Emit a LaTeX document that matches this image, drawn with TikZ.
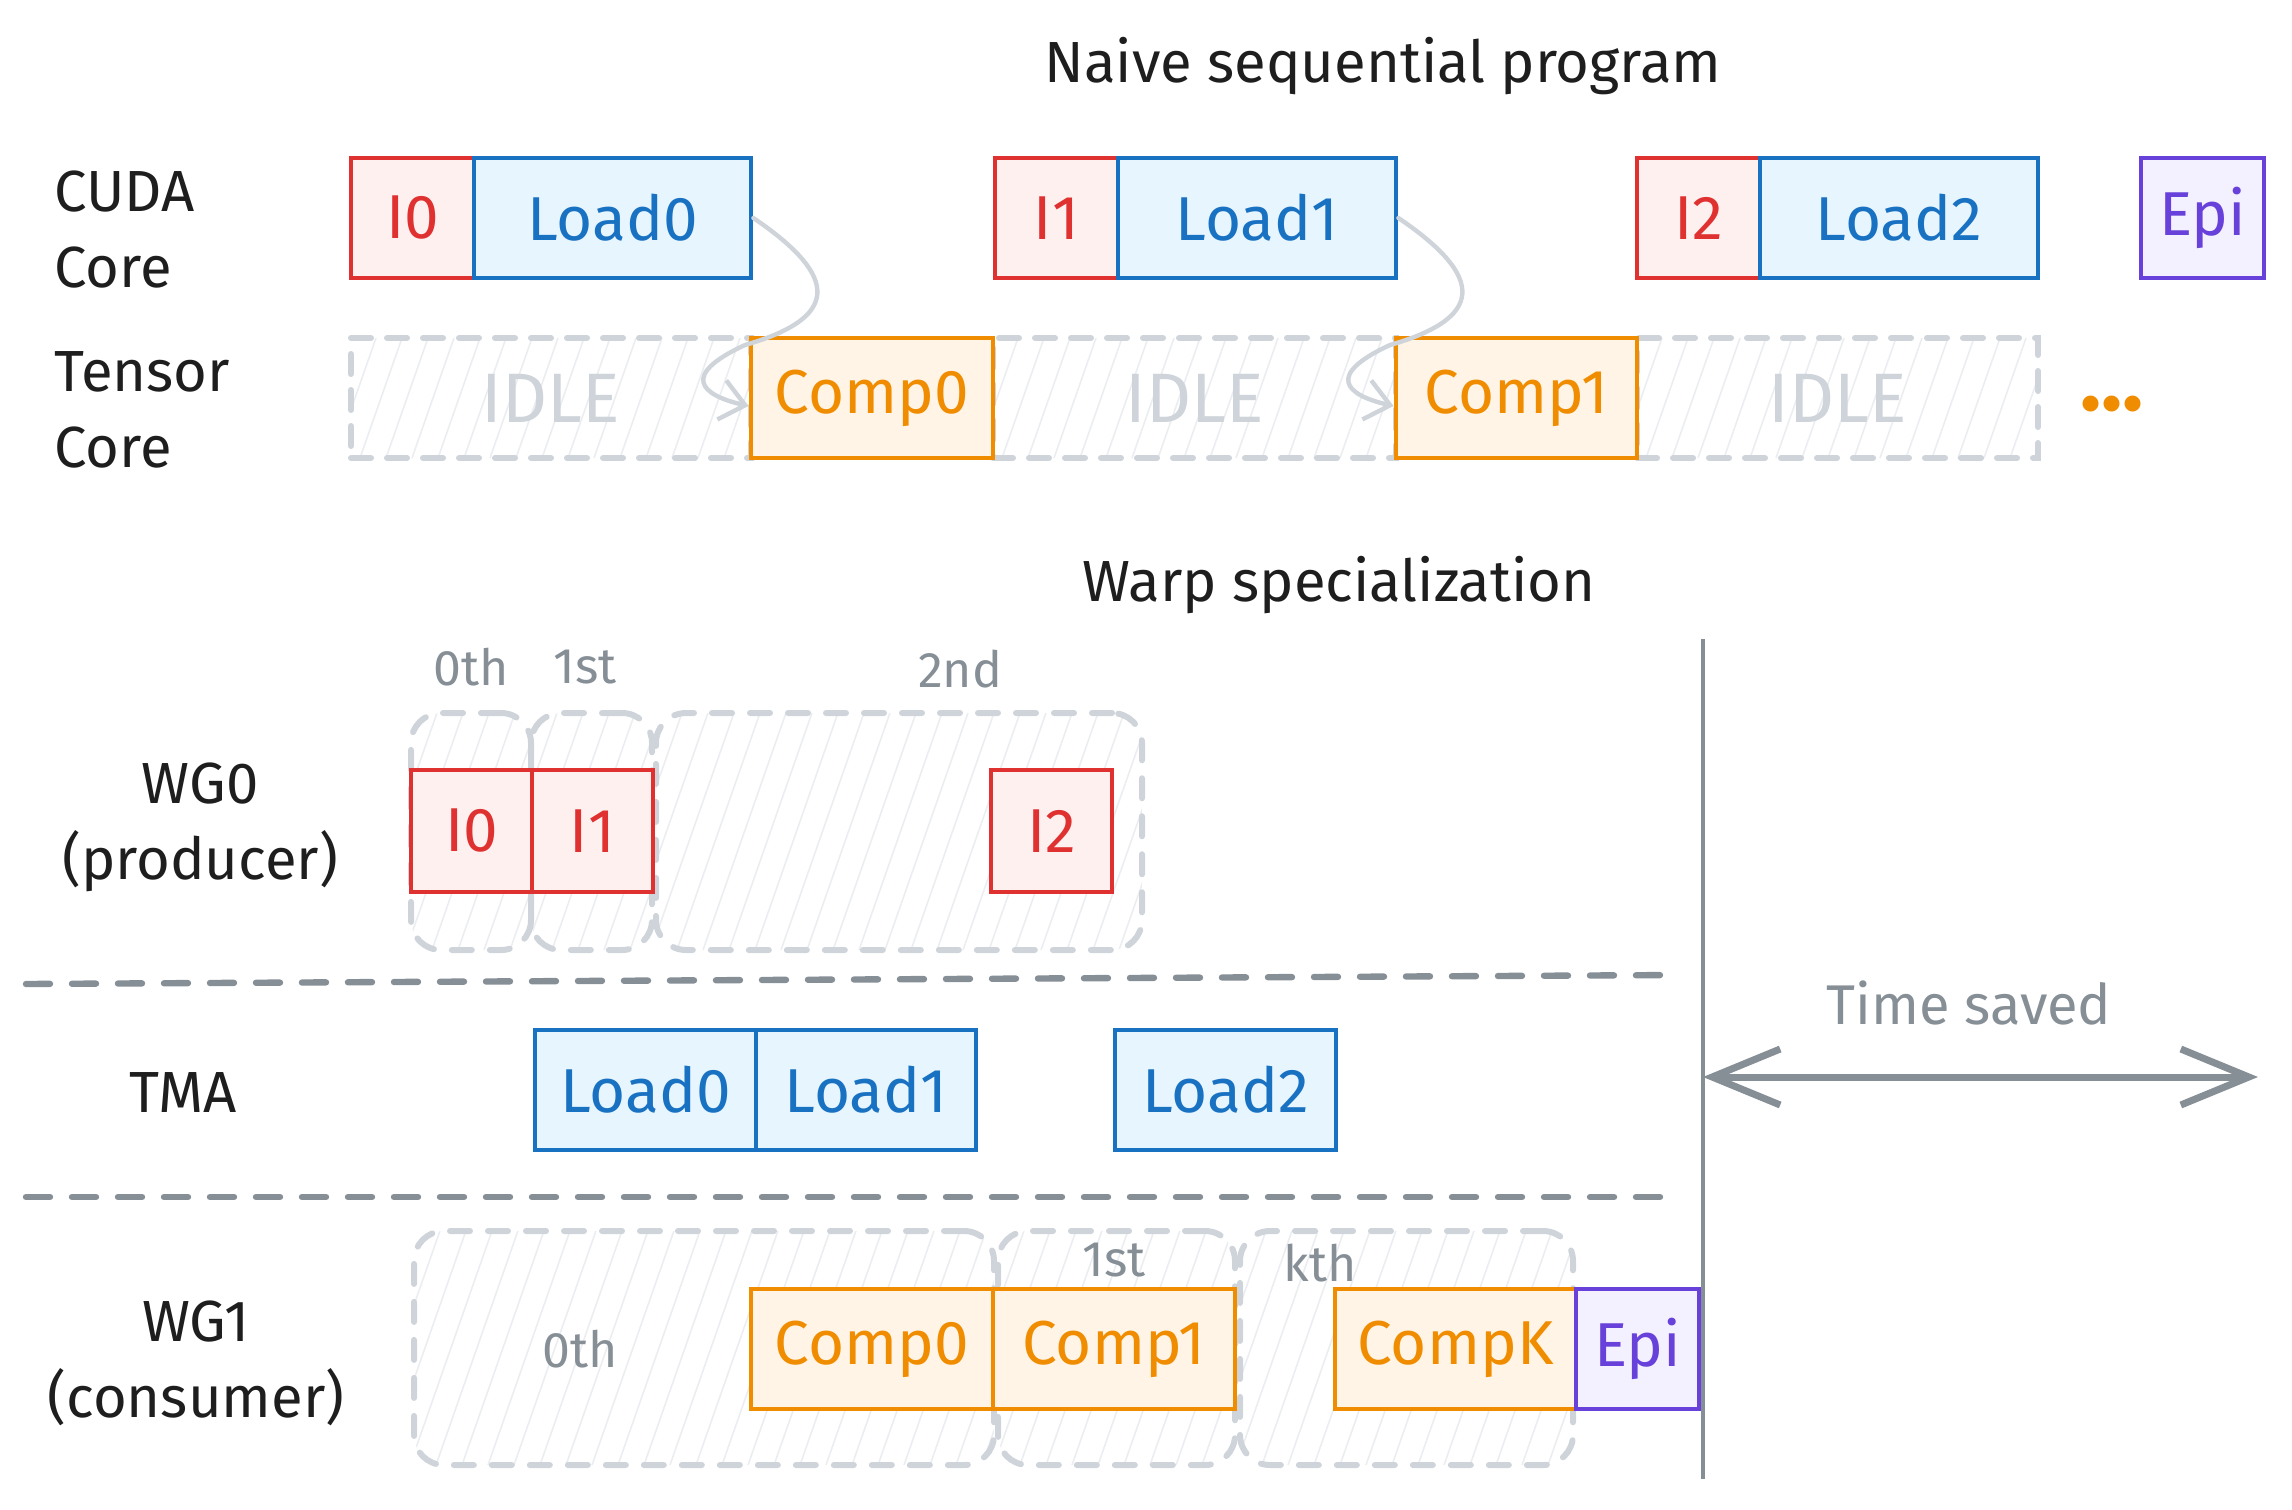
\documentclass[tikz,border=0pt]{standalone}
\usepackage{fontspec}
\setmainfont{Fira Sans}
\usetikzlibrary{arrows.meta,fit,calc}
\definecolor{tred}{HTML}{E03131}
\definecolor{fred}{HTML}{FFF0F0}
\definecolor{tblue}{HTML}{1971C2}
\definecolor{fblue}{HTML}{E7F5FF}
\definecolor{torange}{HTML}{F08C00}
\definecolor{forange}{HTML}{FFF4E6}
\definecolor{tpurple}{HTML}{6741D9}
\definecolor{fpurple}{HTML}{F3F0FF}
\definecolor{lgray}{HTML}{CED4DA}
\definecolor{mgray}{HTML}{868E96}
\definecolor{hgray}{HTML}{EBEDF0}
\definecolor{ink}{HTML}{1E1E1E}
\tikzset{
  big/.style={font=\fontsize{29}{38}\selectfont},
  boxfont/.style={font=\fontsize{31}{38}\selectfont},
  small/.style={font=\fontsize{25}{30}\selectfont},
  tbox/.style={draw, inner sep=0pt, line width=2.4pt},
  ibox/.style={tbox, draw=tred, fill=fred},
  lbox/.style={tbox, draw=tblue, fill=fblue},
  cbox/.style={tbox, draw=torange, fill=forange},
  ebox/.style={tbox, draw=tpurple, fill=fpurple},
  itxt/.style={boxfont, text=tred, inner sep=0pt},
  ltxt/.style={boxfont, text=tblue, inner sep=0pt},
  ctxt/.style={boxfont, text=torange, inner sep=0pt},
  etxt/.style={boxfont, text=tpurple, inner sep=0pt},
  idtxt/.style={font=\fontsize{35}{40}\selectfont, text=lgray, inner sep=0pt},
  idlebox/.style={draw=lgray, line width=3pt, dash pattern=on 10pt off 8pt, line cap=round, inner sep=0pt},
  grp/.style={draw=lgray, line width=3pt, dash pattern=on 10pt off 9pt, line cap=round, rounded corners=15pt, inner sep=0pt},
  hatchline/.style={draw=hgray, line width=0.8pt},
  sepline/.style={draw=mgray, line width=3.2pt, dash pattern=on 12pt off 11pt, line cap=round},
  flow/.style={draw=lgray, line width=2.2pt, line cap=round, -{Straight Barb[length=12pt,width=20pt]}},
  rowlabel/.style={big, text=ink, inner sep=0pt},
  note/.style={small, text=mgray, inner sep=0pt},
}
\newcommand\hatchbox[5]{%
  \begin{scope}
    \clip[rounded corners=#5] (#1,#2) rectangle (#3,#4);
    \pgfmathtruncatemacro\hs{#1-0.35*(#4-#2)}
    \pgfmathtruncatemacro\hn{\hs+26}
    \foreach \i in {\hs,\hn,...,#3} \draw[hatchline] (\i,#4) -- ({\i+0.35*(#4-#2)},#2);
  \end{scope}}
\begin{document}
\begin{tikzpicture}[x=0.5pt,y=-0.5pt]
\useasboundingbox (0,0) rectangle (2292,1510);

% ---------- titles ----------
\node[rowlabel] (title1) at (1383,66) {Naive sequential program};
\node[rowlabel] (title2) at (1339,585) {Warp specialization};

% ---------- row labels ----------
\node[rowlabel, anchor=west, align=left] (cudalab) at (54,230) {CUDA\\Core};
\node[rowlabel, anchor=west, align=left] (tenslab) at (54,410) {Tensor\\Core};
\node[rowlabel, align=center] (wg0lab) at (200,827) {WG0\\(producer)};
\node[rowlabel] (tmalab) at (183,1093) {TMA};
\node[rowlabel, align=center] (wg1lab) at (196,1363) {WG1\\(consumer)};

% ---------- hatching ----------
\hatchbox{351}{338}{751}{458}{0pt}
\hatchbox{993}{338}{1396}{458}{0pt}
\hatchbox{1637}{338}{2038}{458}{0pt}
\hatchbox{411}{713}{531}{950}{15pt}
\hatchbox{531}{713}{652}{950}{15pt}
\hatchbox{656}{713}{1142}{950}{15pt}
\hatchbox{414}{1231}{994}{1465}{15pt}
\hatchbox{998}{1231}{1235}{1465}{15pt}
\hatchbox{1240}{1231}{1573}{1465}{15pt}

% ---------- top: naive ----------
\node[idlebox, fit={(351,338)(751,458)}, label={[idtxt]center:IDLE}] (idle1) {};
\node[idlebox, fit={(993,338)(1396,458)}, label={[idtxt]center:IDLE}] (idle2) {};
\node[idlebox, fit={(1637,338)(2038,458)}, label={[idtxt]center:IDLE}] (idle3) {};

\node[ibox, fit={(351,158)(474,278)}, label={[itxt]center:I0}] (i0) {};
\node[lbox, fit={(474,158)(751,278)}, label={[ltxt]center:Load0}] (load0) {};
\node[ibox, fit={(995,158)(1118,278)}, label={[itxt]center:I1}] (i1) {};
\node[lbox, fit={(1118,158)(1396,278)}, label={[ltxt]center:Load1}] (load1) {};
\node[ibox, fit={(1637,158)(1760,278)}, label={[itxt]center:I2}] (i2) {};
\node[lbox, fit={(1760,158)(2038,278)}, label={[ltxt]center:Load2}] (load2) {};
\node[ebox, fit={(2141,158)(2264,278)}, label={[etxt]center:Epi}] (epi) {};

\node[cbox, fit={(751,338)(993,458)}, label={[ctxt]center:Comp0}] (comp0) {};
\node[cbox, fit={(1396,338)(1637,458)}, label={[ctxt]center:Comp1}] (comp1) {};
\node[text=torange, inner sep=0pt, anchor=base, font=\fontsize{44}{48}\selectfont\bfseries] (dots) at (2112,410) {...};

\draw[flow] (load0.east) .. controls (830,270) and (850,315) .. (745,345)
  .. controls (680,375) and (700,395) .. ([yshift=-4pt]comp0.west);
\draw[flow] (load1.east) .. controls (1475,270) and (1495,315) .. (1390,345)
  .. controls (1325,375) and (1345,395) .. ([yshift=-4pt]comp1.west);

% ---------- bottom: warp specialization ----------
\node[note] (n0th) at (471,667) {0th};
\node[note] (n1st) at (585,667) {1st};
\node[note] (n2nd) at (960,669) {2nd};

\node[grp, fit={(411,713)(531,950)}] (g00) {};
\node[grp, fit={(531,713)(652,950)}] (g01) {};
\node[grp, fit={(656,713)(1142,950)}] (g02) {};

\node[ibox, fit={(411,770)(532,892)}, label={[itxt]center:I0}] (wi0) {};
\node[ibox, fit={(532,770)(653,892)}, label={[itxt]center:I1}] (wi1) {};
\node[ibox, fit={(991,770)(1112,892)}, label={[itxt]center:I2}] (wi2) {};

\coordinate (s1a) at (26,984);
\coordinate (s1b) at (1681,975);
\coordinate (s2a) at (26,1197);
\coordinate (s2b) at (1681,1197);
\draw[sepline] (s1a) -- (s1b);
\draw[sepline] (s2a) -- (s2b);

\node[lbox, fit={(535,1030)(756,1150)}, label={[ltxt]center:Load0}] (tload0) {};
\node[lbox, fit={(756,1030)(976,1150)}, label={[ltxt]center:Load1}] (tload1) {};
\node[lbox, fit={(1115,1030)(1336,1150)}, label={[ltxt]center:Load2}] (tload2) {};

\node[grp, fit={(414,1231)(994,1465)}] (g10) {};
\node[grp, fit={(998,1231)(1235,1465)}] (g11) {};
\node[grp, fit={(1240,1231)(1573,1465)}] (g1k) {};
\node[note] (m0th) at (580,1349) {0th};
\node[note] (m1st) at (1114,1260) {1st};
\node[note] (mkth) at (1320,1263) {kth};

\node[cbox, fit={(751,1289)(993,1409)}, label={[ctxt]center:Comp0}] (wcomp0) {};
\node[cbox, fit={(993,1289)(1235,1409)}, label={[ctxt]center:Comp1}] (wcomp1) {};
\node[cbox, fit={(1335,1289)(1576,1409)}, label={[ctxt]center:CompK}] (wcompk) {};
\node[ebox, fit={(1576,1289)(1699,1409)}, label={[etxt]center:Epi}] (wepi) {};

% ---------- time saved ----------
\coordinate (vtop) at (1703,639);
\coordinate (vbot) at (1703,1479);
\draw[mgray, line width=2pt] (vtop) -- (vbot);
\coordinate (ts1) at (1703,1077);
\coordinate (ts2) at (2258,1077);
\draw[mgray, line width=3.5pt, line cap=round,
  {Straight Barb[length=34pt,width=28pt]}-{Straight Barb[length=34pt,width=28pt]}] (ts1) -- (ts2);
\node[note, font=\fontsize{28}{32}\selectfont] (tslab) at (1969,1003) {Time saved};
\end{tikzpicture}
\end{document}
